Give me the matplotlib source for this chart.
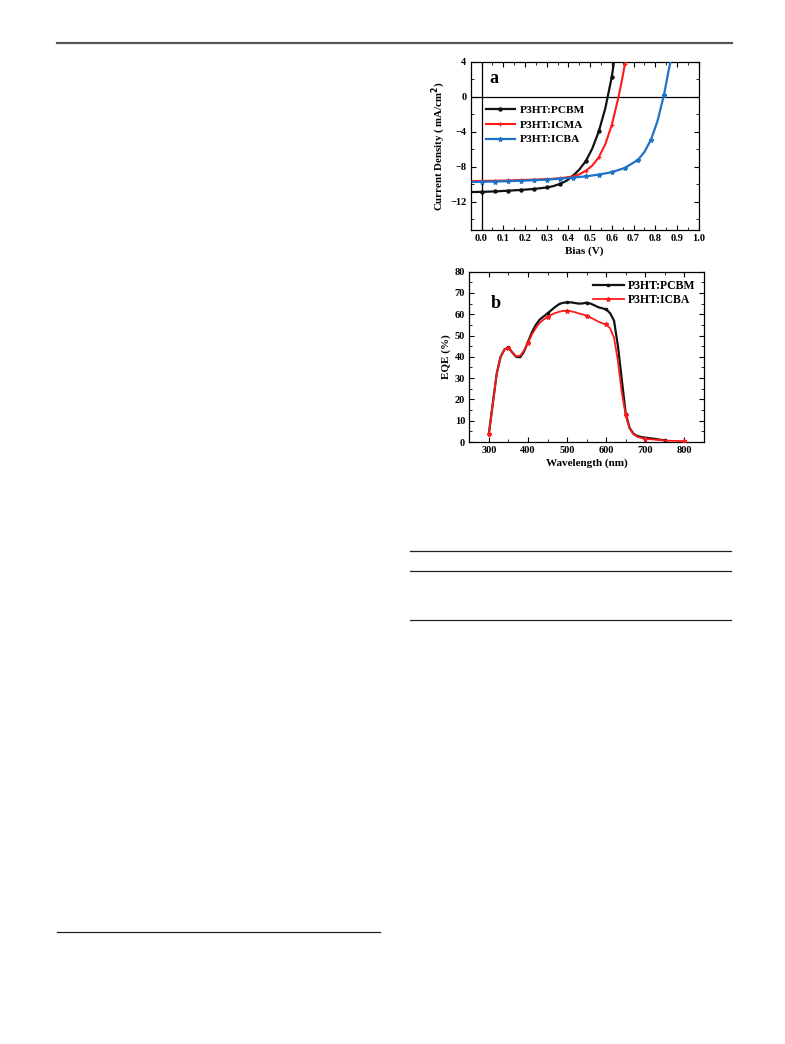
"""
plot.py

Two stacked device panels on a page layout:
  a) J-V curves for three P3HT:fullerene blends
  b) EQE spectra for P3HT:PCBM and P3HT:ICBA
Output: out.png
"""

import matplotlib.pyplot as plt
from matplotlib.lines import Line2D
from matplotlib.ticker import MultipleLocator

plt.rcParams["font.family"] = ["Liberation Serif", "DejaVu Serif"]
plt.rcParams["font.weight"] = "bold"
plt.rcParams["mathtext.default"] = "bf"

# ── panel a: J-V data ─────────────────────────────────────────────────────────
bias_pcbm = [-0.04, 0.0, 0.06, 0.12, 0.18, 0.24, 0.30, 0.33, 0.36, 0.39, 0.42,
             0.45, 0.48, 0.51, 0.54, 0.57, 0.60, 0.61]
j_pcbm = [-10.87, -10.85, -10.8, -10.72, -10.63, -10.52, -10.35, -10.2, -9.95,
          -9.6, -9.05, -8.3, -7.35, -5.9, -3.95, -1.3, 2.3, 4.0]

bias_icma = [-0.04, 0.0, 0.06, 0.12, 0.18, 0.24, 0.30, 0.36, 0.42, 0.45, 0.48,
             0.51, 0.54, 0.57, 0.60, 0.63, 0.645, 0.66, 0.665]
j_icma = [-9.62, -9.6, -9.58, -9.55, -9.5, -9.45, -9.4, -9.3, -9.1, -8.85,
          -8.45, -7.85, -6.9, -5.4, -3.2, -0.1, 1.7, 3.7, 4.0]

bias_icba = [-0.04, 0.0, 0.06, 0.12, 0.18, 0.24, 0.30, 0.36, 0.42, 0.48, 0.54,
             0.60, 0.66, 0.72, 0.75, 0.78, 0.81, 0.84, 0.86, 0.87]
j_icba = [-9.72, -9.7, -9.67, -9.63, -9.58, -9.52, -9.45, -9.35, -9.22, -9.08,
          -8.88, -8.6, -8.12, -7.2, -6.3, -4.9, -2.8, 0.2, 2.8, 4.0]

# ── panel b: EQE data ─────────────────────────────────────────────────────────
wl_pcbm = [300, 310, 320, 330, 340, 350, 360, 370, 380, 390, 400, 410, 420, 430,
           440, 450, 460, 470, 480, 490, 500, 510, 520, 530, 540, 550, 560, 570,
           580, 590, 600, 610, 620, 630, 640, 650, 660, 670, 680, 690, 700, 720,
           740, 750]
eqe_pcbm = [3.8, 18, 32, 40, 43.5, 44.5, 42, 40, 39.8, 42.5, 47, 51.5, 55, 57.5,
            59, 60.4, 62, 63.5, 64.8, 65.4, 65.6, 65.6, 65.3, 65, 65.1, 65.5, 65,
            64.2, 63.3, 62.8, 62.3, 60.5, 57, 45, 29, 13.1, 6.5, 3.8, 2.8, 2.3,
            2.0, 1.6, 1.0, 0.8]

wl_icba = [300, 310, 320, 330, 340, 350, 360, 370, 380, 390, 400, 410, 420, 430,
           440, 450, 460, 470, 480, 490, 500, 510, 520, 530, 540, 550, 560, 570,
           580, 590, 600, 610, 620, 630, 640, 650, 660, 670, 680, 690, 700, 720,
           740, 760, 780, 800]
eqe_icba = [3.8, 18, 32, 40, 43.5, 44.3, 42, 40.3, 40.5, 43, 46.6, 50.5, 53.5,
            56, 57.5, 58.8, 59.8, 60.6, 61.2, 61.6, 61.7, 61.4, 61, 60.4, 59.9,
            59.4, 58.5, 57.5, 56.5, 55.8, 55.2, 53.4, 49, 38, 23, 12.5, 6.2, 3.6,
            2.4, 1.9, 1.5, 1.2, 0.9, 0.6, 0.5, 0.4]

BLACK = "#111111"
RED = "#ff1a1a"
BLUE = "#1f72c8"

W, H = 785, 1044


def _fig_rect(l, t, r, b):
    """pixel box (page coords) -> figure fraction rect"""
    return [l / W, 1 - b / H, (r - l) / W, (b - t) / H]


def _style(ax):
    ax.tick_params(which="both", direction="in", top=True, right=True,
                   labelsize=7.5, pad=3)
    ax.tick_params(which="major", length=3.5, width=0.8)
    ax.tick_params(which="minor", length=2, width=0.6)
    for sp in ax.spines.values():
        sp.set_linewidth(0.9)
    for lab in ax.get_xticklabels() + ax.get_yticklabels():
        lab.set_fontweight("bold")


def _marks(xs, step):
    return [abs(round(x / step) * step - x) < 1e-6 and x >= 0 for x in xs]


fig = plt.figure(figsize=(W / 100, H / 100), dpi=100)

# page rules
page_lines = [
    ((57, 732), (43, 43), "#555555", 1.6),
    ((410, 731), (551, 551), "#222222", 0.9),
    ((410, 731), (571, 571), "#222222", 0.9),
    ((410, 731), (620, 620), "#222222", 0.9),
    ((57, 380), (932, 932), "#222222", 0.9),
]
for xs, ys, col, lw in page_lines:
    fig.add_artist(Line2D([x / W for x in xs], [1 - y / H for y in ys],
                          color=col, lw=lw, transform=fig.transFigure))

# ── panel a ───────────────────────────────────────────────────────────────────
ax_a = fig.add_axes(_fig_rect(470.7, 61.7, 698.7, 230))
ax_a.axhline(0, color="black", lw=0.9, zorder=1)
ax_a.axvline(0, color="black", lw=0.9, zorder=1)
ax_a.plot(bias_pcbm, j_pcbm, color=BLACK, lw=1.6, marker="o", ms=2.2,
          markevery=_marks(bias_pcbm, 0.06), label="P3HT:PCBM", zorder=3)
ax_a.plot(bias_icma, j_icma, color=RED, lw=1.5, marker="+", ms=3.2, mew=0.9,
          markevery=_marks(bias_icma, 0.06), label="P3HT:ICMA", zorder=3)
ax_a.plot(bias_icba, j_icba, color=BLUE, lw=1.6, marker="*", ms=3.2,
          markevery=_marks(bias_icba, 0.06), label="P3HT:ICBA", zorder=3)
ax_a.set_xlim(-0.05, 1.0)
ax_a.set_ylim(-15.2, 4)
ax_a.xaxis.set_minor_locator(MultipleLocator(0.05))
ax_a.yaxis.set_major_locator(MultipleLocator(4))
ax_a.yaxis.set_minor_locator(MultipleLocator(2))
ax_a.set_xticks([0.0, 0.1, 0.2, 0.3, 0.4, 0.5, 0.6, 0.7, 0.8, 0.9, 1.0])
ax_a.set_xticklabels(["0.0", "0.1", "0.2", "0.3", "0.4", "0.5", "0.6", "0.7",
                      "0.8", "0.9", "1.0"])
_style(ax_a)
ax_a.set_xlabel("Bias (V)", fontsize=8, fontweight="bold", labelpad=2)
ax_a.set_ylabel("Current Density ( mA/cm$^2$)", fontsize=7.8,
                fontweight="bold", labelpad=1.5)
ax_a.text(0.08, 0.9, "a", transform=ax_a.transAxes, fontsize=13,
          fontweight="bold", ha="left", va="center")
ax_a.legend(loc="upper left", bbox_to_anchor=(0.03, 0.79), frameon=False,
            handlelength=2.6, handletextpad=0.4, labelspacing=0.42,
            borderpad=0.2, prop={"weight": "bold", "size": 8.2})

# ── panel b ───────────────────────────────────────────────────────────────────
ax_b = fig.add_axes(_fig_rect(469.3, 271.7, 704, 442))
ax_b.plot(wl_pcbm, eqe_pcbm, color=BLACK, lw=1.6, marker="s", ms=2.0,
          markevery=_marks(wl_pcbm, 50), label="P3HT:PCBM", zorder=2)
ax_b.plot(wl_icba, eqe_icba, color=RED, lw=1.3, marker="*", ms=3.2,
          markevery=_marks(wl_icba, 50), label="P3HT:ICBA", zorder=3)
ax_b.set_xlim(250, 850)
ax_b.set_ylim(0, 80)
ax_b.xaxis.set_major_locator(MultipleLocator(100))
ax_b.xaxis.set_minor_locator(MultipleLocator(50))
ax_b.yaxis.set_major_locator(MultipleLocator(10))
ax_b.yaxis.set_minor_locator(MultipleLocator(5))
_style(ax_b)
ax_b.set_xlabel("Wavelength (nm)", fontsize=8, fontweight="bold", labelpad=2)
ax_b.set_ylabel("EQE (%)", fontsize=8, fontweight="bold", labelpad=3)
ax_b.text(0.09, 0.815, "b", transform=ax_b.transAxes, fontsize=13,
          fontweight="bold", ha="left", va="center")
ax_b.legend(loc="upper right", bbox_to_anchor=(1.0, 1.0), frameon=False,
            handlelength=2.6, handletextpad=0.4, labelspacing=0.2,
            borderpad=0.2, prop={"weight": "bold", "size": 8.5})

fig.savefig("out.png", dpi=100)
